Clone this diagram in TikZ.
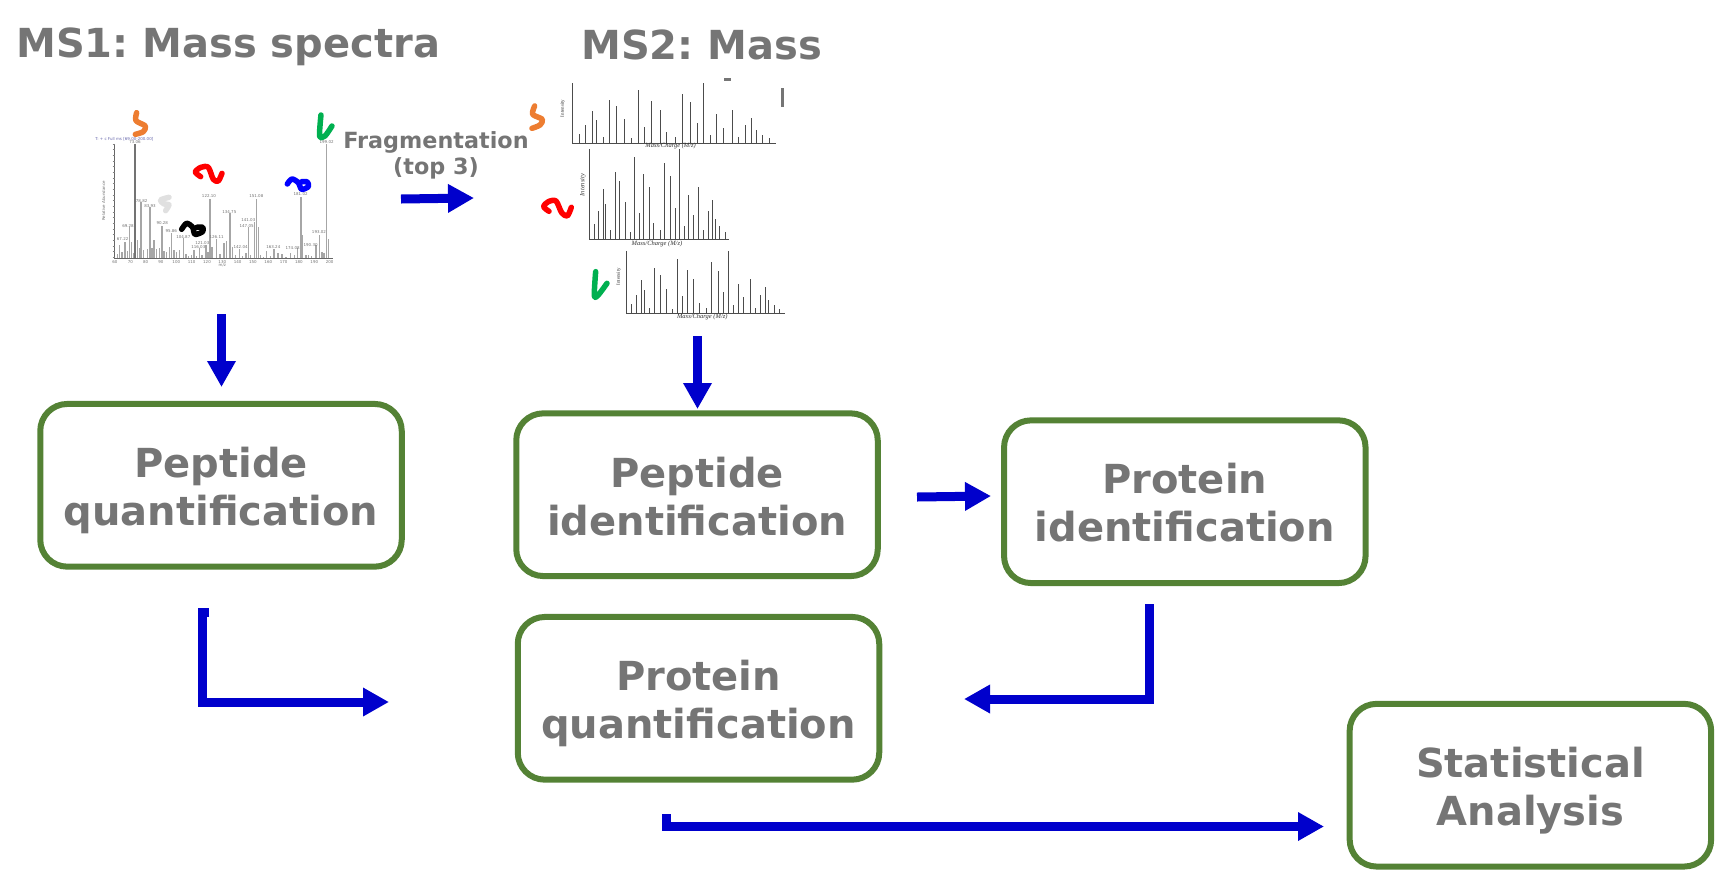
\documentclass[tikz,border=0pt]{standalone}
\usepackage{fontspec}
\setmainfont{DejaVu Sans}
\newfontfamily\specfont{Liberation Serif}
\usepackage{tikz}
\usetikzlibrary{arrows.meta}
\frenchspacing
\definecolor{labelgray}{HTML}{757575}
\definecolor{boxgreen}{HTML}{548235}
\definecolor{flowblue}{HTML}{0000CC}
\definecolor{sqorange}{HTML}{ED7D31}
\definecolor{sqgreen}{HTML}{00B050}
\newcommand{\peaks}[2]{\foreach \px/\py in {#2} \draw[peak] (\px,#1) -- (\px,\py);}
\newcommand{\lift}[1]{\rule{0pt}{#1pt}}
\tikzset{
  stepbox/.style={draw=boxgreen, line width=6pt, rounded corners=27pt, outer sep=0pt, minimum width=361.5pt, minimum height=162.7pt, text=labelgray, font=\fontsize{40}{48}\selectfont\bfseries, align=center},
  title/.style={text=labelgray, font=\fontsize{40}{48}\selectfont\bfseries, inner sep=0pt, anchor=base west},
  flow/.style={draw=flowblue, line width=9pt, -{Triangle[length=26pt,width=27pt]}},
  peak/.style={line width=1pt, black!70},
  axisline/.style={line width=1pt, black!70},
  squiggle/.style={line width=5.5pt, line cap=round, line join=round},
  axislab/.style={font=\specfont\itshape\fontsize{6.5}{7}\selectfont, inner sep=0pt, black!80},
  tinylab/.style={font=\fontsize{4}{4}\selectfont, inner sep=0pt, black!55},
}
\begin{document}
\begin{tikzpicture}[x=1pt,y=-1pt]
\useasboundingbox (0,0) rectangle (1728,879);
% titles
\node[title] (msone) at (16,57) {MS1: Mass spectra};
\node[title] (mstwo) at (581,59) {MS2: Mass};
\fill[labelgray] (723.5,78) rectangle (731,81);
\fill[labelgray] (781,88) rectangle (783.5,107);
% MS1 spectrum
\begin{scope}[x=0.3333pt,y=-0.3333pt]
\draw[axisline, black!60] (345,432) -- (345,775) -- (1000,775);
\foreach \ty in {432,449,...,775} \draw[black!50, line width=0.4pt] (338,\ty) -- (345,\ty);
\foreach \px/\py in {352/762,358/735,366/755,375/725,382/752,388/680,394/725,400/760,412/720,418/745,423/605,430/750,442/748,450/622,456/745,462/720,470/748,478/745,486/678,492/752,500/755,508/742,515/700,522/750,530/755,538/750,550/715,558/762,566/768,574/765,582/750,590/768,598/745,606/765,618/735,624/755,630/597,636/740,650/716,660/762,672/728,680/722,690/640,698/740,706/765,718/748,728/768,738/760,745/680,752/765,763/665,770/597,775/680,782/765,790/770,800/752,812/768,822/748,834/758,846/762,858/770,872/758,884/765,893/745,903/590,908/705,918/765,926/765,934/768,948/735,958/705,966/755,972/760,980/432,986/718}
  \draw[black!35, line width=1.1pt] (\px,775) -- (\px,\py);
\draw[black!55, line width=1.2pt] (405,775) -- (405,432);
\foreach \tx [count=\i] / \ty / \tl in {368/718/67.22,384/677/69.28,405/427/73.06,425/602/78.82,450/618/83.93,487/670/90.28,514/694/95.86,550/711/104.87,627/588/122.10,650/712/126.11,688/636/134.75,745/661/141.03,740/678/147.05,769/588/151.08,902/583/181.02,980/427/199.02,957/697/193.02,932/736/190.30,722/742/142.04,820/742/163.24,878/744/174.08,595/741/116.03,607/728/121.03}
  \node[tinylab] (peaklab\i) at (\tx,\ty) {\tl};
\foreach \tx [count=\i] / \tl in {345/60,391/70,437/80,483/90,529/100,575/110,621/120,667/130,713/140,759/150,805/160,851/170,897/180,943/190,989/200}
  \node[tinylab] (ticklab\i) at (\tx,785) {\tl};
\node[tinylab] (msonez) at (667,796) {m/z};
\node[tinylab, rotate=90] (msoneab) at (311,603) {Relative Abundance};
\node[tinylab, text=blue!45!black!60] (msonehead) at (373,419) {T: + c Full ms [69.00-200.00]};
\draw[squiggle, sqorange] plot[smooth] coordinates {(410,338) (408,362) (436,378) (430,395) (406,403)};
\draw[squiggle, red] plot[smooth] coordinates {(602,530) (586,516) (603,502) (625,502) (640,538) (655,543) (666,520)};
\draw[squiggle, sqgreen] plot[smooth] coordinates {(963,345) (959,408) (975,408) (996,378)};
\draw[squiggle, blue] plot[smooth] coordinates {(862,552) (876,537) (895,548) (905,568) (925,560) (922,546) (905,545)};
\draw[squiggle, black] plot[smooth] coordinates {(545,688) (560,670) (578,682) (585,703) (608,695) (608,682) (590,682)};
\draw[squiggle, black!12] plot[smooth] coordinates {(507,592) (482,600) (492,612) (507,614) (497,632)};
\end{scope}
% MS2 spectra
\begin{scope}[shift={(480,0)},x=0.3333pt,y=-0.3333pt]
\draw[axisline] (278,250) -- (278,431) -- (888,431);
\peaks{431}{298/402,318/376,337/333,350/361,371/412,390/300,410/318,435/358,455/415,475/270,495/380,515/303,541/329,560/397,587/412,607/282,632/307,652/368,672/250,692/405,711/343,731/383,757/329,777/412,797/375,816/355,830/390,849/405,869/415}
\node[axislab] (xlabone) at (572,439) {Mass/Charge (M/z)};
\node[axislab, font=\specfont\fontsize{5}{5}\selectfont, rotate=90] (ylabone) at (248,325) {Intensity};
\draw[axisline] (329,447) -- (329,718) -- (747,718);
\peaks{718}{343/673,356/634,370/567,378/612,392/690,406/517,419/544,436/606,451/696,464/472,478/640,492/522,510/561,522/668,541/690,555/489,572/528,586/623,600/447,613/679,627/584,640/645,657/561,672/690,685/634,698/601,708/657,720/679,736/696}
\node[axislab] (xlabtwo) at (531,731) {Mass/Charge (M/z)};
\node[axislab, rotate=90] (ylabtwo) at (309,555) {Intensity};
\draw[axisline] (439,753) -- (439,942) -- (914,942);
\peaks{942}{454/912,469/885,485/840,494/870,510/923,525/805,541/825,560/866,577/927,592/776,607/888,622/809,642/837,658/908,679/923,694/787,715/813,730/877,746/753,760/915,775/852,791/892,811/837,827/923,842/885,857/862,867/900,883/915,898/927}
\node[axislab] (xlabthree) at (667,951) {Mass/Charge (M/z)};
\node[axislab, font=\specfont\fontsize{5}{5}\selectfont, rotate=90] (ylabthree) at (416,830) {Intensity};
\draw[squiggle, sqorange] plot[smooth] coordinates {(164,318) (158,343) (187,358) (180,375) (156,385)};
\draw[squiggle, red] plot[smooth] coordinates {(207,634) (191,620) (205,605) (228,603) (245,638) (262,648) (274,622)};
\draw[squiggle, sqgreen] plot[smooth] coordinates {(347,815) (343,887) (354,886) (381,850)};
\end{scope}
% steps
\node[stepbox] (pepquant) at (221,485.3) {\lift{41}Peptide\\quantification};
\node[stepbox] (pepid) at (697,494.7) {\lift{41}Peptide\\identification\vphantom{q}};
\node[stepbox] (protid) at (1184.8,501.7) {\lift{40}Protein\\identification\vphantom{q}};
\node[stepbox] (protquant) at (698.5,698.3) {\lift{41}Protein\\quantification};
\node[stepbox] (stats) at (1530.4,785.2) {\lift{41}Statistical\\Analysis\vphantom{q}};
\node[text=labelgray, font=\fontsize{22.3}{26}\selectfont\bfseries, align=center, inner sep=0pt] (fragm) at (436,155) {Fragmentation\\(top 3)};
% arrows
\coordinate (msonebot) at (221.5,314);
\coordinate (pepquanttop) at (221.5,387);
\coordinate (fragstart) at (401,199);
\coordinate (fragend) at (474,198);
\coordinate (mstwobot) at (697.5,336);
\coordinate (pepidtop) at (697.5,409);
\coordinate (pepidright) at (917,497);
\coordinate (protidleft) at (991,496);
\coordinate (quantstart) at (209,612);
\coordinate (quantstub) at (202.5,612);
\coordinate (quantcorner) at (202.5,702);
\coordinate (quantend) at (389,702);
\coordinate (protstart) at (1149,604);
\coordinate (protcorner) at (1149,699);
\coordinate (protend) at (964,699);
\coordinate (statstart) at (666.5,814);
\coordinate (statcorner) at (666.5,826.5);
\coordinate (statend) at (1324,826.5);
\draw[flow] (msonebot) -- (pepquanttop);
\draw[flow] (fragstart) -- (fragend);
\draw[flow] (mstwobot) -- (pepidtop);
\draw[flow] (pepidright) -- (protidleft);
\draw[flow] (quantstart) -- (quantstub) -- (quantcorner) -- (quantend);
\draw[flow] (protstart) -- (protcorner) -- (protend);
\draw[flow] (statstart) -- (statcorner) -- (statend);
\end{tikzpicture}
\end{document}
